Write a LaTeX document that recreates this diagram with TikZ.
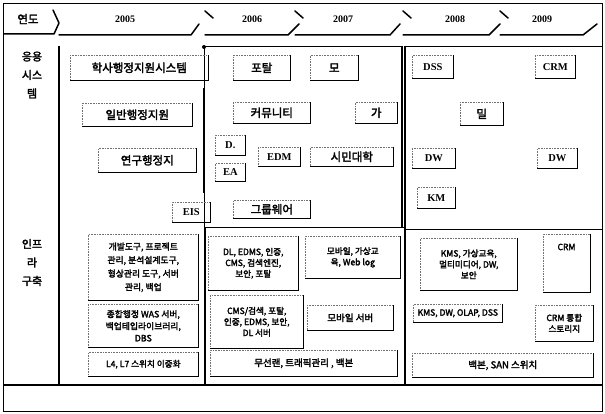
\documentclass[tikz,border=0pt]{standalone}
\usepackage{fontspec}
\setmainfont{Liberation Serif}
\newfontfamily\kr[AutoFakeBold=2.5]{Noto Sans CJK KR}
\newcommand\mybox[7][]{%
  \node[item,#1,minimum width={#5-#3},minimum height={#6-#4}] (#2) at (#3,#4) {#7};
  \draw[redge] (#2.north east) -- (#2.south east);
  \draw[bedge] (#2.south west) -- (#2.south east);
}
\begin{document}
\begin{tikzpicture}[x=1pt,y=-1pt,
  kr/.style={font=\kr\bfseries\fontsize{11.5}{13}\selectfont},
  lbl/.style={font=\kr\bfseries\fontsize{11}{18.5}\selectfont, align=center},
  krs/.style={font=\kr\bfseries\fontsize{8.6}{11}\selectfont, align=center},
  krm/.style={font=\kr\bfseries\fontsize{9.5}{11}\selectfont, align=center},
  lat/.style={font=\bfseries\fontsize{10.5}{12}\selectfont},
  yr/.style={font=\bfseries\fontsize{10}{12}\selectfont},
  item/.style={draw=black!55, densely dotted, line width=0.6pt, inner sep=0pt, anchor=north west},
  redge/.style={line width=1.5pt},
  bedge/.style={line width=1pt},
  thinl/.style={line width=0.8pt},
  heavy/.style={line width=2.2pt},
  hdr/.style={line width=1.5pt, line cap=round, line join=round},
]
\useasboundingbox (0,0) rectangle (605,414);
% outer frame
\draw[line width=1pt] (3,4) rectangle (602,411);
% header
\node[kr] (yd) at (28,19) {연도};
\draw[hdr] (4,34) -- (54,34) -- (59,23) -- (53,10);
\foreach \a/\b/\c/\t/\tx/\s in {59/191/199/2005/125/0, 205/288/299/2006/252/1, 295/390/400/2007/343/1, 403/489/500/2008/455/1, 500/583/597/2009/542/1}{
  \node[yr] (y\t) at (\tx,19) {\t};
  \draw[hdr] (\a,35) -- (\b,35) -- (\c,24);
  \ifnum\s=1 \draw[hdr] (\a,11) -- (\a+8,18); \fi
}
% row labels
\node[lbl] (app) at (32,75) {응용\\시스\\템};
\node[lbl] (inf) at (32,262.5) {인프\\라\\구축};
% main lines
\draw[heavy] (59,46) -- (59,385);
\draw[heavy] (3,385) -- (602,385);
\draw[thinl] (204,46) -- (402,46);
\draw[thinl] (204,46) -- (204,227);
\draw[heavy] (204,88) -- (204,193);
\fill (204,47) circle (2pt);
\draw[heavy] (402,46) -- (402,228);
\draw[thinl] (405,46) -- (602,46);
\draw[heavy] (405,46) -- (405,385);
\draw[thinl] (205,227) -- (404,227);
\draw[heavy] (205,227) -- (205,385);
\draw[thinl] (405,229) -- (602,229);
% application 2005
\mybox[kr]{hak}{70}{55}{208}{80}{학사행정지원시스템}
\mybox[kr]{ilb}{82}{103}{192}{126}{일반행정지원}
\mybox[kr]{yeo}{98}{148}{196}{172}{연구행정지}
\mybox[lat]{eis}{172}{202}{210}{222}{EIS}
% application 2006-2007
\mybox[kr]{por}{233}{55}{290}{80}{포탈}
\mybox[kr]{mo}{310}{55}{358}{80}{모}
\mybox[kr]{com}{233}{102}{310}{123}{커뮤니티}
\mybox[kr]{ga}{355}{102}{397}{123}{가}
\mybox[lat]{dd}{215}{135}{245}{155}{D.}
\mybox[lat]{ea}{215}{163}{245}{181}{EA}
\mybox[lat]{edm}{258}{147}{300}{166}{EDM}
\mybox[kr]{civ}{310}{147}{393}{166}{시민대학}
\mybox[kr]{grp}{233}{200}{310}{218}{그룹웨어}
% application 2008-2009
\mybox[lat]{dss}{412}{55}{453}{78}{DSS}
\mybox[lat]{crm}{535}{55}{575}{78}{CRM}
\mybox[kr]{mil}{460}{102}{503}{125}{밀}
\mybox[lat]{dwa}{412}{148}{455}{168}{DW}
\mybox[lat]{dwb}{537}{148}{577}{168}{DW}
\mybox[lat]{km}{417}{187}{455}{208}{KM}
% infrastructure 2005
\mybox[krs,font=\kr\bfseries\fontsize{8.8}{13.5}\selectfont]{ia}{88}{234}{198}{300}{개발도구, 프로젝트\\관리, 분석설계도구,\\형상관리 도구, 서버\\관리, 백업}
\mybox[krs,font=\kr\bfseries\fontsize{8.8}{12}\selectfont]{ib}{88}{304}{198}{347}{종합행정 WAS 서버,\\백업테입라이브러리,\\DBS}
\mybox[krs]{ic}{88}{352}{198}{376}{L4, L7 스위치 이중화}
% infrastructure 2006-2007
\mybox[krs]{ia1}{208}{236}{298}{290}{DL, EDMS, 인증,\\CMS, 검색엔진,\\보안, 포탈}
\mybox[krs]{ia2}{305}{236}{400}{278}{모바일, 가상교\\육, Web log}
\mybox[krs]{ia3}{210}{295}{303}{348}{CMS/검색, 포탈,\\인증, EDMS, 보안,\\DL 서버}
\mybox[krm]{ia4}{307}{305}{393}{330}{모바일 서버}
\mybox[krm]{ia5}{210}{350}{397}{376}{무선랜, 트래픽관리 , 백본}
% infrastructure 2008-2009
\mybox[krs]{ib1}{420}{238}{517}{290}{KMS, 가상교육,\\멀티미디어, DW,\\보안}
\mybox[krs]{ib2}{543}{234}{590}{292}{}
\node[krs] (ib2t) at (566.5,247) {CRM};
\mybox[krs]{ib3}{413}{304}{502}{322}{KMS, DW, OLAP, DSS}
\mybox[krs]{ib4}{535}{305}{593}{341}{CRM 통합\\스토리지}
\mybox[krm]{ib5}{412}{353}{593}{377}{백본, SAN 스위치}
\end{tikzpicture}
\end{document}
